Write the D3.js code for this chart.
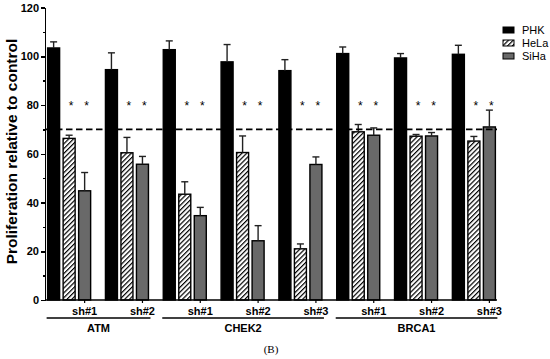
<!DOCTYPE html>
<html lang="en">
<head>
<meta charset="utf-8">
<title>Proliferation relative to control</title>
<script src="https://cdn.jsdelivr.net/npm/d3@7"></script>
<style>
  body { margin: 0; background: white; }
  svg { display: block; font-family: "Liberation Sans", Arial, sans-serif; }
  .axis path, .axis line { stroke: black; stroke-width: 1.5; shape-rendering: crispEdges; }
  .axis text { font-size: 11px; font-weight: bold; fill: black; }
</style>
</head>
<body>
<svg id="chart"></svg>
<script>
// data
var groups = ["sh#1", "sh#2", "sh#1", "sh#2", "sh#3", "sh#1", "sh#2", "sh#3"];
var geneOf = ["ATM", "ATM", "CHEK2", "CHEK2", "CHEK2", "BRCA1", "BRCA1", "BRCA1"];
var genes = ["ATM", "CHEK2", "BRCA1"];
var series = ["PHK", "HeLa", "SiHa"];

var phk     = [103.4, 94.5, 102.7, 97.7, 94.1, 101.1, 99.3, 100.8];
var phkErr  = [2.5, 6.9, 3.6, 7.1, 4.5, 2.7, 1.8, 3.7];
var hela    = [66.3, 60.4, 43.4, 60.5, 21.0, 69.0, 67.2, 65.2];
var helaErr = [1.3, 6.3, 5.1, 6.8, 2.0, 3.0, 0.7, 1.9];
var siha    = [44.8, 55.7, 34.6, 24.3, 55.6, 67.6, 67.3, 71.0];
var sihaErr = [7.5, 3.2, 3.4, 6.2, 3.1, 3.0, 1.4, 6.9];

var yTicks = [0, 20, 40, 60, 80, 100, 120];
var yMinor = [10, 30, 50, 70, 90, 110];
var threshold = 70;
var starLevel = 81;   // asterisks above HeLa and SiHa
var starSeries = ["HeLa", "SiHa"];

var values = { PHK: phk, HeLa: hela, SiHa: siha };
var errors = { PHK: phkErr, HeLa: helaErr, SiHa: sihaErr };

var width = 550, height = 359;
var svg = d3.select("#chart").attr("width", width).attr("height", height);

var defs = svg.append("defs");
var hatch = defs.append("pattern")
    .attr("id", "hatch")
    .attr("patternUnits", "userSpaceOnUse")
    .attr("width", 3.4).attr("height", 3.4)
    .attr("patternTransform", "rotate(45)");
hatch.append("rect").attr("width", 3.4).attr("height", 3.4).attr("fill", "white");
hatch.append("line").attr("x1", 0).attr("y1", 0).attr("x2", 0).attr("y2", 3.4)
    .attr("stroke", "black").attr("stroke-width", 2.4);

var fills = { PHK: "black", HeLa: "url(#hatch)", SiHa: "#696969" };

var x0 = d3.scaleBand()
    .domain(d3.range(groups.length))
    .range([46, 497])
    .paddingInner(0.256)
    .paddingOuter(0.028);

var x1 = d3.scaleBand()
    .domain(series)
    .range([0, x0.bandwidth()])
    .paddingInner(0.226);

var y = d3.scaleLinear().domain([0, 120]).range([300, 7.5]);

// y axis
svg.append("g")
    .attr("class", "axis")
    .attr("transform", "translate(45,0)")
    .call(d3.axisLeft(y).tickValues(yTicks).tickSize(4).tickPadding(2).tickSizeOuter(0));

svg.append("g")
    .attr("class", "axis")
    .attr("transform", "translate(45,0)")
    .call(d3.axisLeft(y).tickValues(yMinor).tickSize(2).tickFormat("").tickSizeOuter(0))
    .select(".domain").remove();

svg.append("text")
    .attr("transform", "translate(17,151.5) rotate(-90)")
    .attr("text-anchor", "middle")
    .style("font-size", "15.5px")
    .style("font-weight", "bold")
    .text("Proliferation relative to control");

// bars
var rows = [];
groups.forEach(function(g, i) {
    series.forEach(function(s) {
        rows.push({ gi: i, s: s, v: values[s][i], e: errors[s][i] });
    });
});

svg.append("g").selectAll("rect")
    .data(rows)
    .enter().append("rect")
    .attr("x", function(d) { return x0(d.gi) + x1(d.s); })
    .attr("y", function(d) { return y(d.v); })
    .attr("width", x1.bandwidth())
    .attr("height", function(d) { return y(0) - y(d.v); })
    .attr("fill", function(d) { return fills[d.s]; })
    .attr("stroke", "black")
    .attr("stroke-width", 1.4);

// error bars (upper only)
var eb = svg.append("g").attr("stroke", "#222").attr("stroke-width", 1.4);
rows.forEach(function(d) {
    var cx = x0(d.gi) + x1(d.s) + x1.bandwidth() / 2;
    eb.append("line").attr("x1", cx).attr("x2", cx)
        .attr("y1", y(d.v)).attr("y2", y(d.v + d.e));
    eb.append("line").attr("x1", cx - 3.5).attr("x2", cx + 3.5)
        .attr("y1", y(d.v + d.e)).attr("y2", y(d.v + d.e));
});

// x axis
svg.append("line")
    .attr("x1", 45).attr("x2", 497)
    .attr("y1", y(0)).attr("y2", y(0))
    .attr("stroke", "black").attr("stroke-width", 1.5);

groups.forEach(function(g, i) {
    var cx = x0(i) + x1("SiHa") + x1.bandwidth() / 2;
    svg.append("line").attr("x1", cx).attr("x2", cx)
        .attr("y1", y(0)).attr("y2", y(0) + 3)
        .attr("stroke", "black").attr("stroke-width", 1.2);
    svg.append("text")
        .attr("x", cx).attr("y", 315)
        .attr("text-anchor", "middle")
        .style("font-size", "11px").style("font-weight", "bold")
        .text(g);
});

// gene brackets
genes.forEach(function(gene) {
    var idx = d3.range(groups.length).filter(function(i) { return geneOf[i] === gene; });
    var a = x0(idx[0]) - 1;
    var b = x0(idx[idx.length - 1]) + x0.bandwidth() + 2;
    svg.append("line").attr("x1", a).attr("x2", b)
        .attr("y1", 318).attr("y2", 318)
        .attr("stroke", "black").attr("stroke-width", 1.3);
    svg.append("text")
        .attr("x", (a + b) / 2).attr("y", 332)
        .attr("text-anchor", "middle")
        .style("font-size", "11px").style("font-weight", "bold")
        .text(gene);
});

// threshold line
svg.append("line")
    .attr("x1", 46).attr("x2", 497)
    .attr("y1", y(threshold)).attr("y2", y(threshold))
    .attr("stroke", "black").attr("stroke-width", 1.8)
    .attr("stroke-dasharray", "6.5,3.5");

// asterisks
groups.forEach(function(g, i) {
    starSeries.forEach(function(s) {
        svg.append("text")
            .attr("x", x0(i) + x1(s) + x1.bandwidth() / 2 + 2)
            .attr("y", y(starLevel) + 7)
            .attr("text-anchor", "middle")
            .style("font-size", "12px")
            .text("*");
    });
});

// legend
var legend = svg.append("g").selectAll("g")
    .data(series)
    .enter().append("g")
    .attr("transform", function(d, i) { return "translate(503," + (27 + i * 13) + ")"; });
legend.append("rect")
    .attr("width", 11).attr("height", 6)
    .attr("fill", function(d) { return fills[d]; })
    .attr("stroke", "black").attr("stroke-width", 1);
legend.append("text")
    .attr("x", 19).attr("y", 6.5)
    .style("font-size", "11px")
    .text(function(d) { return d; });

// caption
svg.append("text")
    .attr("x", 271).attr("y", 353)
    .attr("text-anchor", "middle")
    .style("font-family", "'Liberation Serif', 'Times New Roman', serif")
    .style("font-size", "11px")
    .text("(B)");
</script>
</body>
</html>
